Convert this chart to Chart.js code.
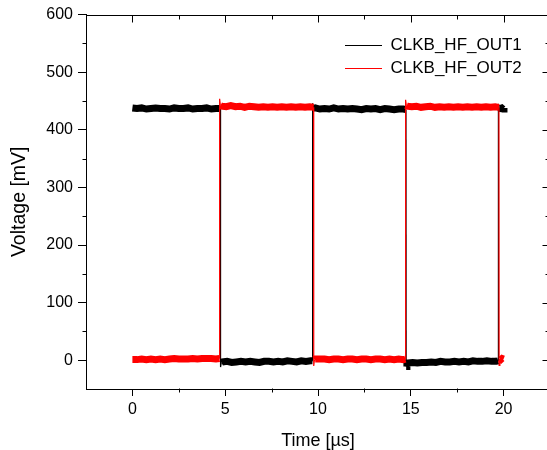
<!DOCTYPE html>
<html>
<head>
<meta charset="utf-8">
<script src="https://cdn.jsdelivr.net/npm/chart.js@4/dist/chart.umd.min.js"></script>
<style>
html,body{margin:0;padding:0;background:#fff;overflow:hidden;}
canvas{display:block;}
</style>
</head>
<body>
<canvas id="c" width="560" height="450" style="width:560px;height:450px"></canvas>
<script>
// ---- data ----
const seriesNames = ['CLKB_HF_OUT1', 'CLKB_HF_OUT2'];

const t1 = [0,0.25,0.5,0.75,1.0,1.25,1.5,1.75,2.0,2.25,2.5,2.75,3.0,3.25,3.5,3.75,4.0,4.25,4.5,4.74,
  4.75,4.79,
  4.85,5.1,5.35,5.6,5.85,6.1,6.35,6.6,6.85,7.1,7.35,7.6,7.85,8.1,8.35,8.6,8.85,9.1,9.35,9.6,9.70,
  9.71,9.75,
  9.85,10.1,10.35,10.6,10.85,11.1,11.35,11.6,11.85,12.1,12.35,12.6,12.85,13.1,13.35,13.6,13.85,14.1,14.35,14.6,14.74,
  14.75,14.79,
  14.85,15.1,15.35,15.6,15.85,16.1,16.35,16.6,16.85,17.1,17.35,17.6,17.85,18.1,18.35,18.6,18.85,19.1,19.35,19.6,19.71,
  19.72,19.76,
  19.82,19.9,19.97,20.02];
const v1 = [438,437,438,436,437,438,437,437,436,438,437,437,438,436,437,437,438,436,437,437,
  -12,-4,
  -3,-2,-4,-3,-2,-3,-2,-3,-4,-2,-2,-3,-2,-3,-1,-2,-3,-1,-2,-1,-1,
  446,437,
  438,436,437,436,438,436,437,436,437,436,435,437,436,437,435,437,436,435,436,436,435,
  -11,-5,
  -5,-4,-5,-4,-4,-3,-4,-2,-3,-3,-2,-3,-2,-3,-1,-2,-2,-1,-2,-2,-1,
  445,438,
  437,438,436,438];

const t2 = [0,0.25,0.5,0.75,1.0,1.25,1.5,1.75,2.0,2.25,2.5,2.75,3.0,3.25,3.5,3.75,4.0,4.25,4.5,4.69,
  4.70,4.74,
  4.8,5.05,5.3,5.55,5.8,6.05,6.3,6.55,6.8,7.05,7.3,7.55,7.8,8.05,8.3,8.55,8.8,9.05,9.3,9.55,9.76,
  9.77,9.81,
  9.85,10.1,10.35,10.6,10.85,11.1,11.35,11.6,11.85,12.1,12.35,12.6,12.85,13.1,13.35,13.6,13.85,14.1,14.35,14.6,14.71,
  14.72,14.76,
  14.8,15.05,15.3,15.55,15.8,16.05,16.3,16.55,16.8,17.05,17.3,17.55,17.8,18.05,18.3,18.55,18.8,19.05,19.3,19.55,19.75,
  19.76,19.8,
  19.85,19.92,20.0];
const v2 = [1,1,2,1,2,1,2,1,2,3,2,2,2,3,2,3,3,3,2,3,
  454,442,
  441,440,442,440,441,439,441,440,439,440,439,440,439,440,439,440,439,440,439,440,439,
  -10,1,
  2,2,2,1,2,2,1,2,2,1,2,2,1,2,2,1,2,1,2,1,2,
  452,442,
  441,440,441,439,440,441,439,440,439,440,439,440,439,440,439,440,439,440,439,440,439,
  -9,2,
  1,3,2];

const xTicks = [0,5,10,15,20];
const xMinor = [2.5,7.5,12.5,17.5];
const yTicks = [0,100,200,300,400,500,600];
const yMinor = [50,150,250,350,450,550];

// ---- chart ----
const FONT = '"Liberation Sans", Arial, sans-serif';
const toXY = (ts, vs) => ts.map((t, i) => ({x: t, y: vs[i]}));

const frameTicks = {
  id: 'frameTicks',
  beforeDraw(chart) {
    const lg = chart.legend;
    if (lg) {
      lg.left = 339; lg.top = 31;
      lg.right = chart.width; lg.bottom = lg.top + 60;
    }
  },
  afterDraw(chart) {
    const {ctx, chartArea: a, scales: {x, y}} = chart;
    const L = Math.round(a.left) + 0.5, R = Math.round(a.right) - 0.5;
    const T = Math.round(a.top) + 0.5, B = Math.round(a.bottom) - 0.5;
    ctx.save();
    ctx.strokeStyle = '#000';
    ctx.lineWidth = 1;
    ctx.beginPath();
    ctx.moveTo(L, T); ctx.lineTo(R, T); ctx.lineTo(R, B);
    xTicks.forEach(v => { const p = Math.round(x.getPixelForValue(v)) + 0.5; ctx.moveTo(p, T); ctx.lineTo(p, T + 7); });
    xMinor.forEach(v => { const p = Math.round(x.getPixelForValue(v)) + 0.5;
      ctx.moveTo(p, T); ctx.lineTo(p, T + 4); ctx.moveTo(p, B); ctx.lineTo(p, B + 4); });
    yTicks.forEach(v => { const p = Math.round(y.getPixelForValue(v)) + 0.5; ctx.moveTo(R, p); ctx.lineTo(R - 7, p); });
    yMinor.forEach(v => { const p = Math.round(y.getPixelForValue(v)) + 0.5;
      ctx.moveTo(R, p); ctx.lineTo(R - 4, p); ctx.moveTo(L, p); ctx.lineTo(L - 4, p); });
    ctx.stroke();
    ctx.restore();
  }
};

// thick noisy band on the flat parts, thin line on the switching edges and spikes
const bandWidth = c => Math.abs(c.p1.parsed.y - c.p0.parsed.y) > 6 ? 1.2 : 7;

new Chart(document.getElementById('c'), {
  type: 'line',
  data: {
    datasets: [
      {label: seriesNames[0], data: toXY(t1, v1), borderColor: '#000000', backgroundColor: '#000000', order: 2,
       borderWidth: 7, pointRadius: 0, tension: 0, segment: {borderWidth: bandWidth}},
      {label: seriesNames[1], data: toXY(t2, v2), borderColor: '#ff0000', backgroundColor: '#ff0000', order: 1,
       borderWidth: 7, pointRadius: 0, tension: 0, segment: {borderWidth: bandWidth}}
    ]
  },
  options: {
    responsive: false,
    animation: false,
    devicePixelRatio: 1,
    parsing: false,
    layout: {padding: {left: 0, top: 14, right: 10, bottom: 0}},
    plugins: {
      tooltip: {enabled: false},
      legend: {
        position: 'chartArea',
        align: 'start',
        labels: {
          usePointStyle: true,
          pointStyleWidth: 37,
          padding: 6,
          color: '#000',
          font: {family: FONT, size: 17},
          generateLabels: chart => Chart.defaults.plugins.legend.labels.generateLabels(chart)
            .map(l => Object.assign(l, {lineWidth: 1, pointStyle: 'line'}))
            .sort((a, b) => a.datasetIndex - b.datasetIndex)
        }
      }
    },
    scales: {
      x: {
        type: 'linear', position: 'bottom', min: -2.5, max: 22.5,
        afterBuildTicks: s => { s.ticks = xTicks.map(v => ({value: v})); },
        afterFit: s => { s.height = 61; },
        ticks: {color: '#000', font: {family: FONT, size: 16}, padding: 4, maxRotation: 0, autoSkip: false},
        grid: {drawOnChartArea: false, drawTicks: true, tickLength: 7, color: '#000'},
        border: {display: true, color: '#000', width: 1},
        title: {display: true, text: 'Time [µs]', color: '#000', font: {family: FONT, size: 18, lineHeight: 1}, padding: {top: 0, bottom: 0}}
      },
      y: {
        type: 'linear', position: 'left', min: -50, max: 600,
        afterBuildTicks: s => { s.ticks = yTicks.map(v => ({value: v})); },
        afterFit: s => { s.width = 86; },
        ticks: {color: '#000', font: {family: FONT, size: 16}, padding: 5, autoSkip: false},
        grid: {drawOnChartArea: false, drawTicks: true, tickLength: 8, color: '#000'},
        border: {display: true, color: '#000', width: 1},
        title: {display: true, text: 'Voltage [mV]', color: '#000', font: {family: FONT, size: 19.5, lineHeight: 1}, padding: {top: 10, bottom: 0}}
      }
    }
  },
  plugins: [frameTicks]
});
</script>
</body>
</html>
